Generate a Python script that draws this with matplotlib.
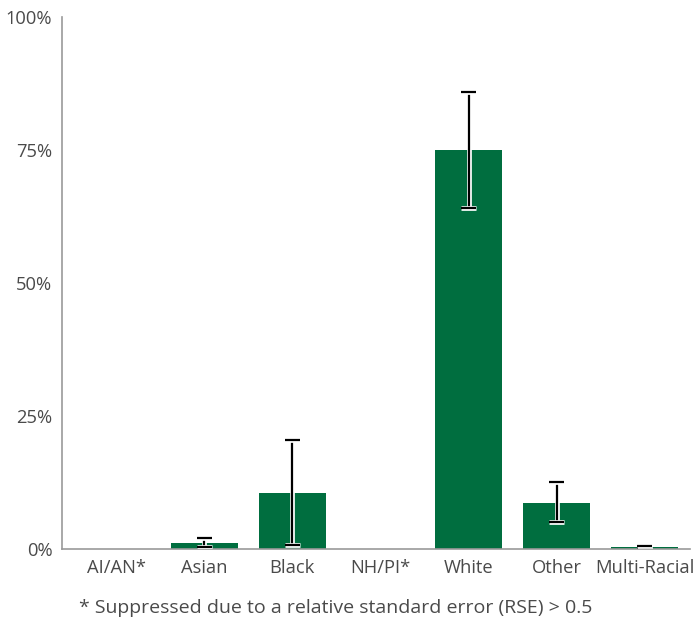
import matplotlib.pyplot as plt
import matplotlib.patheffects as pe
import numpy as np

categories = ["AI/AN*", "Asian", "Black", "NH/PI*", "White", "Other", "Multi-Racial"]
values = [np.nan, 1.2, 10.6, np.nan, 75.0, 8.7, 0.4]
err_low = [np.nan, 0.3, 0.8, np.nan, 64.1, 5.1, 0.15]
err_high = [np.nan, 2.1, 20.5, np.nan, 85.9, 12.6, 0.65]
yticks = [0, 25, 50, 75, 100]
footnote = "* Suppressed due to a relative standard error (RSE) > 0.5"

plt.rcParams['font.family'] = ['Open Sans', 'DejaVu Sans']
txt = '#4a4a4a'

fig = plt.figure(figsize=(6.94, 6.2), dpi=100)
ax = fig.add_axes([0.0893, 0.1145, 0.905, 0.858])

x = np.arange(len(categories))
vals = np.array(values, dtype=float)
ax.bar(x, np.nan_to_num(vals), width=0.76, color='#006e3f', zorder=2)

lo = np.array(err_low, dtype=float)
hi = np.array(err_high, dtype=float)
ok = ~np.isnan(vals)
yerr = np.vstack([vals[ok] - lo[ok], hi[ok] - vals[ok]])
eb = ax.errorbar(x[ok], vals[ok], yerr=yerr, fmt='none', ecolor='black',
                 elinewidth=1.6, capsize=5.5, capthick=1.6, zorder=3)
halo = [pe.Stroke(linewidth=3.4, foreground='white'), pe.Normal()]
for art in list(eb[1]) + list(eb[2]):
    art.set_path_effects(halo)

ax.set_ylim(0, 100)
ax.set_xlim(-0.615, 6.515)
ax.set_yticks(yticks)
ax.set_yticklabels([f"{t}%" for t in yticks])
ax.set_xticks(x)
ax.set_xticklabels(categories)
ax.tick_params(length=0, labelsize=13.2, labelcolor=txt)
ax.tick_params(axis='y', pad=7)
ax.tick_params(axis='x', pad=7)
for s in ['top', 'right']:
    ax.spines[s].set_visible(False)
for s in ['left', 'bottom']:
    ax.spines[s].set_color('#999999')
    ax.spines[s].set_linewidth(1.2)

fig.text(0.114, 0.011, footnote, fontsize=14, color=txt)

fig.savefig('out.png', dpi=100)
